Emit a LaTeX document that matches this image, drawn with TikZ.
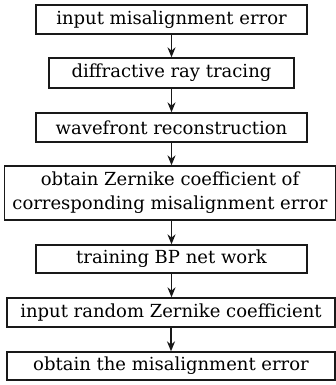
\documentclass[tikz,border=0pt]{standalone}
\usepackage{fontspec}
\setmainfont{DejaVu Serif}
\usetikzlibrary{arrows.meta}
\tikzset{
  stepbox/.style={draw=black!90, line width=0.65pt, inner sep=0pt, align=center,
    font=\fontsize{9}{12}\selectfont},
  flow/.style={draw=black!90, line width=0.65pt, -{Stealth[length=5pt,width=4pt]}}
}
\begin{document}
\begin{tikzpicture}[x=0.5pt,y=-0.5pt]
  \useasboundingbox (0,0) rectangle (336,385);
  \node[stepbox, minimum width=135.5pt, minimum height=14.5pt] (n1) at (171.5,19.5) {input misalignment error};
  \node[stepbox, minimum width=122.5pt, minimum height=15pt] (n2) at (171.5,73) {diffractive ray tracing};
  \node[stepbox, minimum width=135.5pt, minimum height=14.5pt] (n3) at (171.5,127.5) {wavefront reconstruction};
  \node[stepbox, minimum width=165.5pt, minimum height=27pt] (n4) at (170,193) {obtain Zernike coefficient of\\corresponding misalignment error};
  \node[stepbox, minimum width=135.5pt, minimum height=14pt] (n5) at (171.5,259) {training BP net work};
  \node[stepbox, minimum width=164pt, minimum height=14.5pt] (n6) at (171,312.5) {input random Zernike coefficient};
  \node[stepbox, minimum width=164pt, minimum height=14pt] (n7) at (171,366) {obtain the misalignment error};
  \draw[flow] (n1) -- (n2);
  \draw[flow] (n2) -- (n3);
  \draw[flow] (n3) -- (n3 |- n4.north);
  \draw[flow] (n4.south -| n5) -- (n5);
  \draw[flow] (n5) -- (n5 |- n6.north);
  \draw[flow] (n6) -- (n7);
\end{tikzpicture}
\end{document}
